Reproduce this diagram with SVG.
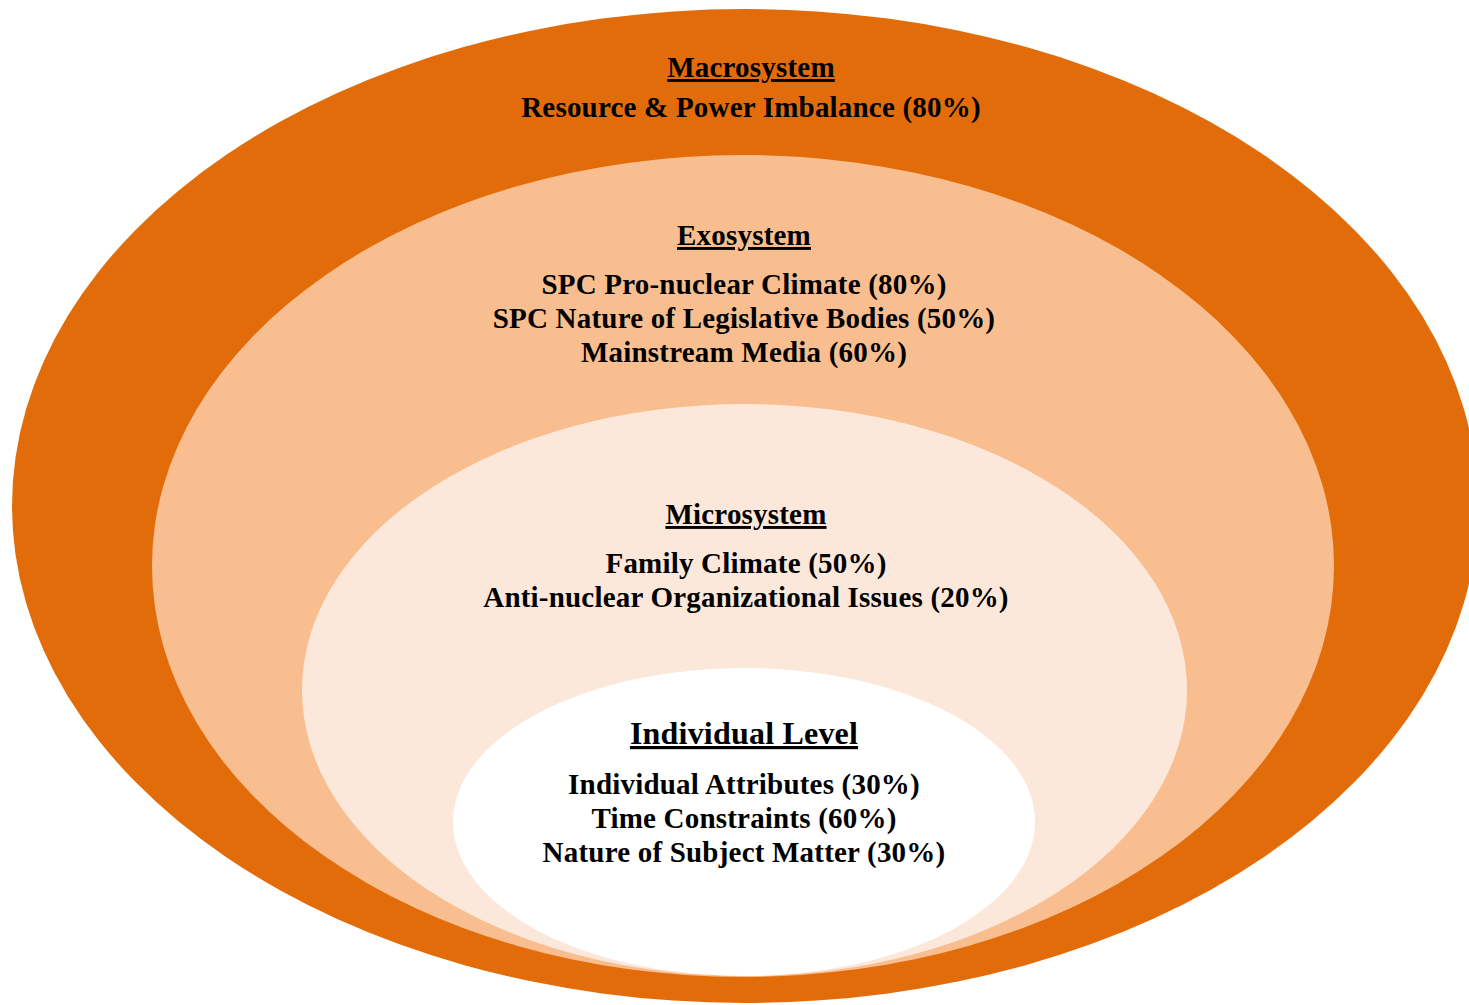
<svg xmlns="http://www.w3.org/2000/svg" width="1469" height="1005" viewBox="0 0 1469 1005">
<style>
text{font-family:"Liberation Serif","Times New Roman",serif;font-weight:bold;font-size:29px;letter-spacing:0.2px;fill:#000;text-anchor:middle}
.h{text-decoration:underline}
.big{font-size:32px}
</style>
<rect width="1469" height="1005" fill="#fff"/>
<g id="macrosystem">
<ellipse cx="745" cy="506" rx="733" ry="497" fill="#E36C0A"/>
<text class="h" x="751" y="77">Macrosystem</text>
<text x="751" y="117">Resource &amp; Power Imbalance (80%)</text>
</g>
<g id="exosystem">
<ellipse cx="743" cy="566" rx="591" ry="411" fill="#F9BE8F"/>
<text class="h" x="744" y="245">Exosystem</text>
<text x="744" y="294">SPC Pro-nuclear Climate (80%)</text>
<text x="744" y="328">SPC Nature of Legislative Bodies (50%)</text>
<text x="744" y="362">Mainstream Media (60%)</text>
</g>
<g id="microsystem">
<ellipse cx="744.5" cy="690" rx="442.5" ry="286" fill="#FCE8DA"/>
<text class="h" x="746" y="524">Microsystem</text>
<text x="746" y="573">Family Climate (50%)</text>
<text x="746" y="607">Anti-nuclear Organizational Issues (20%)</text>
</g>
<g id="individual">
<ellipse cx="744" cy="822" rx="291" ry="154" fill="#fff"/>
<text class="h big" x="744" y="744">Individual Level</text>
<text x="744" y="794">Individual Attributes (30%)</text>
<text x="744" y="828">Time Constraints (60%)</text>
<text x="744" y="862">Nature of Subject Matter (30%)</text>
</g>
<g id="connectors"/>
</svg>
